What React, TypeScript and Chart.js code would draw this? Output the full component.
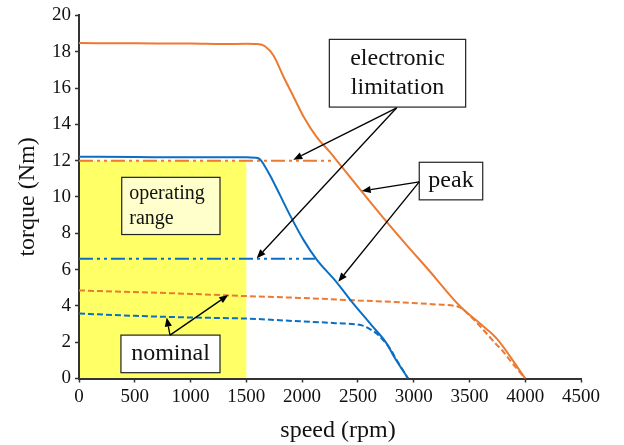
import React, { useEffect, useRef } from "react";
import { Chart, registerables } from "chart.js";

Chart.register(...registerables);

// ---- data (speed in rpm, torque in Nm) ----
const speedTicks = [0, 500, 1000, 1500, 2000, 2500, 3000, 3500, 4000, 4500];
const torqueTicks = [0, 2, 4, 6, 8, 10, 12, 14, 16, 18, 20];

const orangePeakSpeed = [0, 500, 1000, 1300, 1500, 1600, 1667, 1742, 1831, 1921, 2011, 2131, 2250, 2340, 2519, 2728, 2937, 3117, 3420, 3600, 3745, 4000];
const orangePeakTorque = [18.48, 18.46, 18.45, 18.42, 18.44, 18.42, 18.3, 17.8, 16.65, 15.55, 14.45, 13.3, 12.47, 11.78, 10.42, 8.85, 7.35, 6.1, 3.95, 3.0, 2.2, 0];

const bluePeakSpeed = [0, 500, 1000, 1500, 1585, 1622, 1660, 1712, 1802, 1891, 2011, 2131, 2310, 2430, 2620, 2760, 2815, 2950];
const bluePeakTorque = [12.22, 12.2, 12.18, 12.18, 12.16, 12.08, 11.75, 11.2, 10.1, 9.0, 7.65, 6.55, 5.3, 4.35, 2.95, 1.91, 1.3, 0];

const orangeNominalSpeed = [0, 500, 1000, 1320, 1500, 1980, 2500, 2880, 3200, 3415, 3480, 3600, 3745, 3800, 3870, 4000];
const orangeNominalTorque = [4.85, 4.76, 4.66, 4.58, 4.54, 4.44, 4.3, 4.2, 4.08, 3.92, 3.6, 2.85, 1.85, 1.5, 0.95, 0];

const blueNominalSpeed = [0, 500, 1000, 1500, 1980, 2300, 2550, 2600, 2670, 2790, 2850, 2950];
const blueNominalTorque = [3.58, 3.45, 3.36, 3.3, 3.15, 3.05, 2.9, 2.75, 2.46, 1.63, 0.99, 0];

const orangeLimitSpeed = [0, 2265];
const orangeLimitTorque = [12, 12];
const blueLimitSpeed = [0, 2115];
const blueLimitTorque = [6.6, 6.6];

const operatingSpeed = [0, 1500];
const operatingTorque = [0, 12];

// ---- annotations (data coordinates) ----
const labelBoxes = [
  { lines: ["operating", "range"], sx: [383, 1264], ty: [11.08, 7.93], fill: "#ffffcc", size: 20, lineGap: 25, align: "left" },
  { lines: ["nominal"], sx: [376, 1264], ty: [2.39, 0.32], fill: "#ffffff", size: 24, lineGap: 29, align: "center" },
  { lines: ["electronic", "limitation"], sx: [2244, 3466], ty: [18.68, 14.95], fill: "#ffffff", size: 24, lineGap: 29, align: "center" },
  { lines: ["peak"], sx: [3050, 3619], ty: [11.91, 9.84], fill: "#ffffff", size: 24, lineGap: 29, align: "center" },
];

const arrows = [
  { from: [2848, 14.91], to: [1921, 12.05] },
  { from: [2848, 14.91], to: [1593, 6.62] },
  { from: [3050, 10.83], to: [2534, 10.33] },
  { from: [3050, 10.83], to: [2324, 5.33] },
  { from: [816, 2.39], to: [786, 3.36] },
  { from: [816, 2.39], to: [1338, 4.6] },
];

const ORANGE = "#ec7a30";
const BLUE = "#0a6fc4";
const FONT = '"Liberation Serif", "DejaVu Serif", serif';

Chart.defaults.font.family = FONT;

const zip = (xs: number[], ys: number[]) => xs.map((x, i) => ({ x, y: ys[i] }));

const overlayPlugin = {
  id: "overlay",
  beforeDraw(chart: any) {
    const { ctx, scales } = chart;
    const xs = scales.x, ys = scales.y;
    const x0 = xs.getPixelForValue(operatingSpeed[0]);
    const x1 = xs.getPixelForValue(operatingSpeed[1]);
    const y0 = ys.getPixelForValue(operatingTorque[0]);
    const y1 = ys.getPixelForValue(operatingTorque[1]);
    ctx.save();
    ctx.fillStyle = "#ffff66";
    ctx.fillRect(x0, y1, x1 - x0, y0 - y1);
    ctx.restore();
  },
  afterDatasetsDraw(chart: any) {
    const { ctx, scales } = chart;
    const xs = scales.x, ys = scales.y;
    ctx.save();
    for (const b of labelBoxes) {
      const l = xs.getPixelForValue(b.sx[0]);
      const r = xs.getPixelForValue(b.sx[1]);
      const t = ys.getPixelForValue(b.ty[0]);
      const bt = ys.getPixelForValue(b.ty[1]);
      ctx.fillStyle = b.fill;
      ctx.fillRect(l, t, r - l, bt - t);
      ctx.strokeStyle = "#222";
      ctx.lineWidth = 1.2;
      ctx.strokeRect(l, t, r - l, bt - t);
      ctx.fillStyle = "#111";
      ctx.font = `${b.size}px ${FONT}`;
      ctx.textBaseline = "middle";
      const cy = (t + bt) / 2;
      const n = b.lines.length;
      b.lines.forEach((line, i) => {
        const y = cy + (i - (n - 1) / 2) * b.lineGap;
        if (b.align === "left") {
          ctx.textAlign = "left";
          ctx.fillText(line, l + 7.5, y);
        } else {
          ctx.textAlign = "center";
          ctx.fillText(line, (l + r) / 2, y);
        }
      });
    }
    ctx.strokeStyle = "#000";
    ctx.fillStyle = "#000";
    ctx.lineWidth = 1.3;
    for (const a of arrows) {
      const fx = xs.getPixelForValue(a.from[0]);
      const fy = ys.getPixelForValue(a.from[1]);
      const tx = xs.getPixelForValue(a.to[0]);
      const ty = ys.getPixelForValue(a.to[1]);
      const ang = Math.atan2(ty - fy, tx - fx);
      const hl = 9, hw = 3.6;
      const bx = tx - hl * Math.cos(ang);
      const by = ty - hl * Math.sin(ang);
      ctx.beginPath();
      ctx.moveTo(fx, fy);
      ctx.lineTo(bx, by);
      ctx.stroke();
      ctx.beginPath();
      ctx.moveTo(tx, ty);
      ctx.lineTo(bx + hw * Math.sin(ang), by - hw * Math.cos(ang));
      ctx.lineTo(bx - hw * Math.sin(ang), by + hw * Math.cos(ang));
      ctx.closePath();
      ctx.fill();
    }
    ctx.restore();
  },
  afterDraw(chart: any) {
    const { ctx, chartArea } = chart;
    ctx.save();
    ctx.fillStyle = "#111";
    ctx.font = `24px ${FONT}`;
    ctx.textAlign = "center";
    ctx.textBaseline = "middle";
    ctx.fillText("speed (rpm)", (chartArea.left + chartArea.right) / 2 + 8, 431);
    ctx.translate(28, (chartArea.top + chartArea.bottom) / 2);
    ctx.rotate(-Math.PI / 2);
    ctx.fillText("torque (Nm)", 0, 0);
    ctx.restore();
  },
};

export default function App() {
  const ref = useRef<HTMLCanvasElement | null>(null);
  useEffect(() => {
    if (!ref.current) return;
    const lineBase = { pointRadius: 0, fill: false, cubicInterpolationMode: "monotone" as const };
    const tickFont = { family: FONT, size: 19, style: "normal" as const, weight: "normal" as const };
    const chart = new Chart(ref.current, {
      type: "line",
      data: {
        datasets: [
          { ...lineBase, label: "orange peak", data: zip(orangePeakSpeed, orangePeakTorque), borderColor: ORANGE, borderWidth: 2 },
          { ...lineBase, label: "blue peak", data: zip(bluePeakSpeed, bluePeakTorque), borderColor: BLUE, borderWidth: 2 },
          { ...lineBase, label: "orange nominal", data: zip(orangeNominalSpeed, orangeNominalTorque), borderColor: ORANGE, borderWidth: 2, borderDash: [6, 3] },
          { ...lineBase, label: "blue nominal", data: zip(blueNominalSpeed, blueNominalTorque), borderColor: BLUE, borderWidth: 2, borderDash: [6, 3] },
          { ...lineBase, label: "orange limit", data: zip(orangeLimitSpeed, orangeLimitTorque), borderColor: ORANGE, borderWidth: 2, borderDash: [14, 4, 3, 4, 3, 4] },
          { ...lineBase, label: "blue limit", data: zip(blueLimitSpeed, blueLimitTorque), borderColor: BLUE, borderWidth: 2, borderDash: [14, 4, 3, 4, 3, 4] },
        ],
      },
      options: {
        animation: false,
        responsive: false,
        maintainAspectRatio: false,
        font: { family: FONT },
        layout: { padding: { top: 15, right: 43, left: 0, bottom: 0 } },
        plugins: { legend: { display: false }, tooltip: { enabled: false } },
        scales: {
          x: {
            type: "linear",
            min: 0,
            max: 4500,
            afterBuildTicks: (s: any) => { s.ticks = speedTicks.map((v) => ({ value: v })); },
            afterFit: (s: any) => { s.height = 66.5; },
            ticks: { color: "#111", padding: 3, maxRotation: 0, callback: (v: any) => String(v), font: tickFont },
            grid: { drawOnChartArea: false, drawTicks: true, tickLength: 4, tickColor: "#333", tickWidth: 1.5 },
            border: { display: true, color: "#333", width: 2 },
          },
          y: {
            type: "linear",
            min: 0,
            max: 20,
            afterBuildTicks: (s: any) => { s.ticks = torqueTicks.map((v) => ({ value: v })); },
            afterFit: (s: any) => { s.width = 79; },
            ticks: { color: "#111", padding: 4, callback: (v: any) => String(v), font: tickFont },
            grid: { drawOnChartArea: false, drawTicks: true, tickLength: 4, tickColor: "#333", tickWidth: 1.5 },
            border: { display: true, color: "#333", width: 2 },
          },
        },
      },
      plugins: [overlayPlugin],
    } as any);
    return () => chart.destroy();
  }, []);
  return (
    <div style={{ position: "fixed", left: 0, top: 0, width: 624, height: 445, background: "#fff" }}>
      <canvas ref={ref} width={624} height={445} style={{ width: 624, height: 445, display: "block" }} />
    </div>
  );
}
